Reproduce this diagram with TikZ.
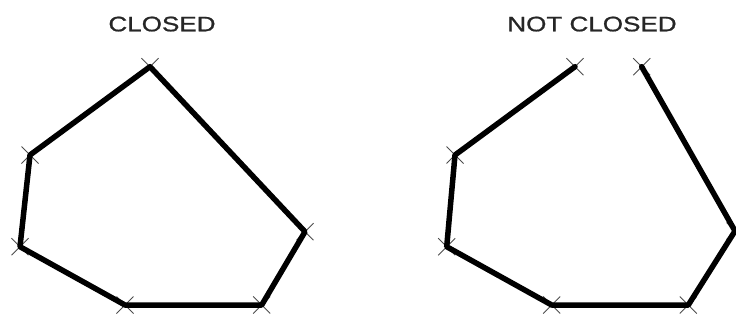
\documentclass[tikz,border=0pt]{standalone}
\usepackage{fontspec}
\setmainfont{Liberation Sans}
\newfontfamily\titlefont[FakeBold=0.9]{Liberation Sans}
\usetikzlibrary{shapes.misc}
\tikzset{
  vtx/.style={cross out, draw=black!70, line width=0.9bp, minimum size=17bp, inner sep=0pt, outer sep=0pt},
  edge/.style={line width=5.5bp, line join=round, line cap=round, black},
  title/.style={font=\titlefont\fontsize{21bp}{24bp}\selectfont, text=black!85, inner sep=0pt, anchor=base}
}
\begin{document}
\begin{tikzpicture}[x=1bp, y=-1bp]
\useasboundingbox (0,0) rectangle (736,320);
% titles
\node[title] (t1) at (162,31.3) {\scalebox{1.24}[1]{CLOSED}};
\node[title] (t2) at (592,31.3) {\scalebox{1.24}[1]{NOT CLOSED}};
% closed polygon vertices
\node[vtx] (a1) at (150,66.7) {};
\node[vtx] (a2) at (30,155) {};
\node[vtx] (a3) at (20,246.7) {};
\node[vtx] (a4) at (125,305) {};
\node[vtx] (a5) at (261.7,305) {};
\node[vtx] (a6) at (305,231.7) {};
\draw[edge] (a1.center) -- (a2.center) -- (a3.center) -- (a4.center) -- (a5.center) -- (a6.center) -- cycle;
% not closed polygon vertices
\node[vtx] (b1) at (575,66.7) {};
\node[vtx] (b2) at (455,155) {};
\node[vtx] (b3) at (446.7,246.7) {};
\node[vtx] (b4) at (551.7,305) {};
\node[vtx] (b5) at (688.3,305) {};
\node[vtx] (b6) at (735,231) {};
\node[vtx] (b7) at (641.7,66.7) {};
\draw[edge] (b1.center) -- (b2.center) -- (b3.center) -- (b4.center) -- (b5.center) -- (b6.center) -- (b7.center);
\end{tikzpicture}
\end{document}
